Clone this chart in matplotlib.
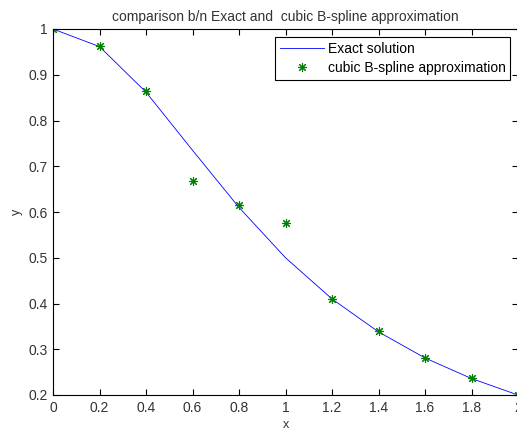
import numpy as np
import matplotlib
matplotlib.use("Agg")
import matplotlib.pyplot as plt

plt.rcParams['font.family'] = ['Liberation Sans', 'DejaVu Sans']

# exact solution
x_exact = [0.0, 0.2, 0.4, 0.6, 0.8, 1.0, 1.2, 1.4, 1.6, 1.8, 2.0]
y_exact = [1.0, 0.9615, 0.862, 0.735, 0.61, 0.5, 0.41, 0.338, 0.281, 0.236, 0.2]

# cubic B-spline approximation, read off the green stars
x_spline = [0.0, 0.2, 0.4, 0.6, 0.8, 1.0, 1.2, 1.4, 1.6, 1.8, 2.0]
y_spline = [1.0, 0.962, 0.865, 0.667, 0.615, 0.575, 0.41, 0.34, 0.28, 0.237, 0.2]

xticks = [0, 0.2, 0.4, 0.6, 0.8, 1, 1.2, 1.4, 1.6, 1.8, 2]
xticklabels = ['0', '0.2', '0.4', '0.6', '0.8', '1', '1.2', '1.4', '1.6', '1.8', '2']
yticks = [0.2, 0.3, 0.4, 0.5, 0.6, 0.7, 0.8, 0.9, 1]
yticklabels = ['0.2', '0.3', '0.4', '0.5', '0.6', '0.7', '0.8', '0.9', '1']

txt = '#333333'

fig = plt.figure(figsize=(5.17, 4.33), dpi=100)
ax = fig.add_axes([53 / 517, 38 / 433, 465 / 517, 366 / 433])

ax.plot(x_exact, y_exact, color=(0, 0, 1), linewidth=0.6, label='Exact solution')
# matlab style '*' : plus and cross overlaid
ax.plot(x_spline, y_spline, linestyle='none', marker=(8, 2, 0), color=(0, 0.5, 0),
        markersize=6.5, markeredgewidth=0.8, label='cubic B-spline approximation')

ax.set_xlim(0, 2)
ax.set_ylim(0.2, 1)
ax.set_xticks(xticks)
ax.set_xticklabels(xticklabels)
ax.set_yticks(yticks)
ax.set_yticklabels(yticklabels)
ax.tick_params(direction='in', top=True, right=True, labelsize=10, length=4,
               width=0.8, color='black', labelcolor=txt, pad=4)
for sp in ax.spines.values():
    sp.set_linewidth(0.8)

ax.set_xlabel('x', fontsize=9, color=txt, labelpad=3)
ax.set_ylabel('y', fontsize=9, color=txt, labelpad=4)
ax.set_title('comparison b/n Exact and  cubic B-spline approximation', fontsize=10,
             color=txt, pad=6)

leg = ax.legend(loc='upper right', fontsize=10, fancybox=False, framealpha=1,
                edgecolor='black', borderaxespad=0.55, handlelength=3.2,
                handletextpad=0.25, borderpad=0.35, labelspacing=0.4)
leg.get_frame().set_linewidth(0.8)
for t in leg.get_texts():
    t.set_color('black')

fig.savefig('out.png', dpi=100)
